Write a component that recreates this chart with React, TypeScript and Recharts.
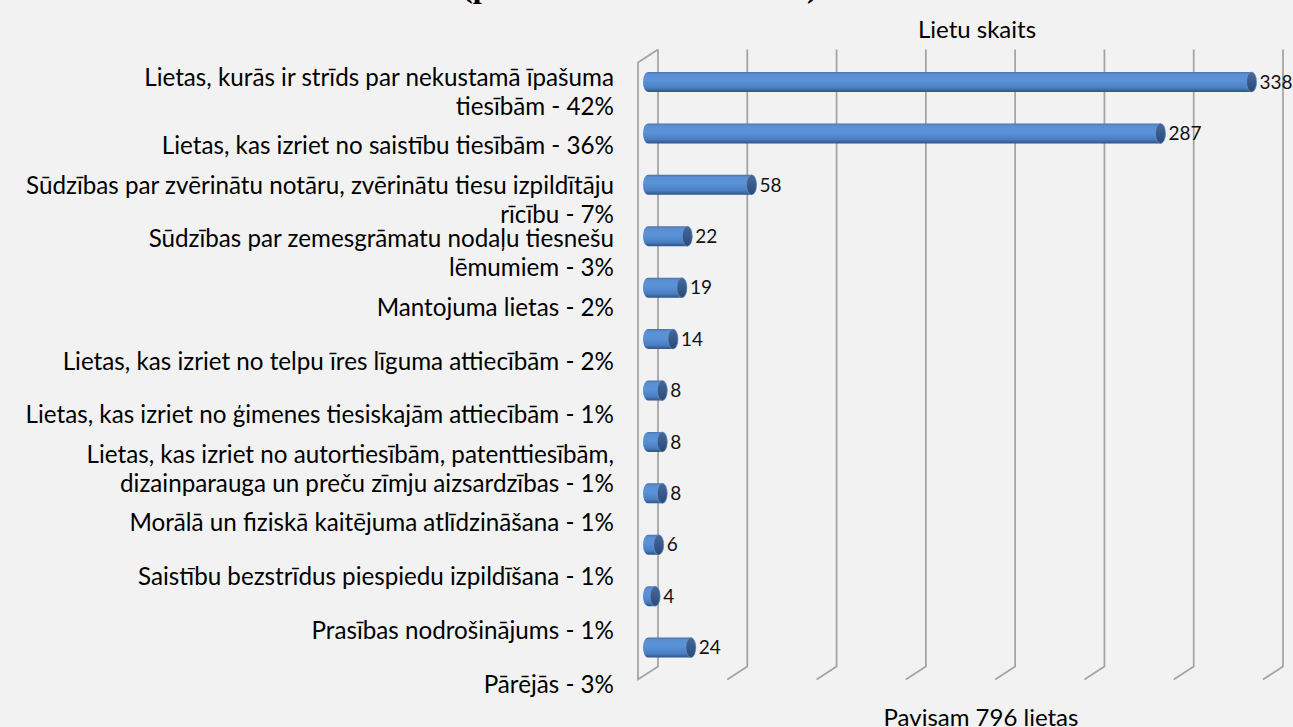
import { BarChart, Bar, XAxis, YAxis, CartesianGrid, LabelList } from 'recharts';

// category labels ("\n" marks where the reference wraps the line)
const CATEGORIES = [
  'Lietas, kurās ir strīds par nekustamā īpašuma\ntiesībām - 42%',
  'Lietas, kas izriet no saistību tiesībām - 36%',
  'Sūdzības par zvērinātu notāru, zvērinātu tiesu izpildītāju\nrīcību - 7%',
  'Sūdzības par zemesgrāmatu nodaļu tiesnešu\nlēmumiem - 3%',
  'Mantojuma lietas - 2%',
  'Lietas, kas izriet no telpu īres līguma attiecībām - 2%',
  'Lietas, kas izriet no ģimenes tiesiskajām attiecībām - 1%',
  'Lietas, kas izriet no autortiesībām, patenttiesībām,\ndizainparauga un preču zīmju aizsardzības - 1%',
  'Morālā un fiziskā kaitējuma atlīdzināšana - 1%',
  'Saistību bezstrīdus piespiedu izpildīšana - 1%',
  'Prasības nodrošinājums - 1%',
  'Pārējās - 3%',
];

const CASES = [338, 287, 58, 22, 19, 14, 8, 8, 8, 6, 4, 24];

const X_TICKS = [0, 50, 100, 150, 200, 250, 300, 350];

const TITLE = '(procentuāli un skaitliski)';
const AXIS_TITLE = 'Lietu skaits';
const FOOTER = 'Pavisam 796 lietas';

const data = CATEGORIES.map((name, i) => ({ name, value: CASES[i] }));

const FONT = 'Lato, "Open Sans", sans-serif';
const BAR_PAD_BOTTOM = 37;
const DX = 10;
const DY = 6.5;
const GRID = '#a3a3a3';
const LABEL_RIGHT = 614;

function CategoryTick({ y, payload }: any) {
  const lines = String(payload.value).split('\n');
  const gap = 29;
  return (
    <g>
      {lines.map((l, i) => (
        <text
          key={i}
          x={LABEL_RIGHT}
          y={y + (i - (lines.length - 1) / 2) * gap}
          textAnchor="end"
          dominantBaseline="central"
          fill="#000"
          fontSize={24.2}
          fontFamily={FONT}
        >
          {l}
        </text>
      ))}
    </g>
  );
}

// 3D-looking wall lines: back line, floor slant, plus front edge for the first one
function GridLine(props: any) {
  const { x1, y1, y2, index } = props;
  const top = y1;
  const bottom = y2 - BAR_PAD_BOTTOM;
  const bx = x1 + DX;
  const fx = x1 - DX;
  let d = `M${bx},${top - DY} L${bx},${bottom - DY} L${fx},${bottom + DY}`;
  if (index === 0) {
    d += ` L${fx},${top + DY} L${bx},${top - DY}`;
  }
  return <path key={`g-${index}`} d={d} fill="none" stroke={GRID} strokeWidth={1.75} />;
}

function Cylinder(props: any) {
  const { x, y, width, height } = props;
  if (width == null || height == null) return null;
  const rx = 5;
  const ry = height / 2;
  const x2 = x + width;
  return (
    <g>
      <path
        d={`M${x},${y} L${x2},${y} A${rx},${ry} 0 0 1 ${x2},${y + height} L${x},${y + height} A${rx},${ry} 0 0 1 ${x},${y} Z`}
        fill="url(#cylBody)"
      />
      <ellipse cx={x2} cy={y + ry} rx={rx} ry={ry} fill="url(#cylCap)" stroke="#6f98d0" strokeWidth={0.6} />
    </g>
  );
}

export default function App() {
  return (
    <div
      style={{
        position: 'fixed',
        top: 0,
        left: 0,
        width: 1293,
        height: 727,
        background: '#f2f2f2',
        overflow: 'hidden',
        fontFamily: FONT,
      }}
    >
      <BarChart
        width={1293}
        height={727}
        data={data}
        layout="vertical"
        margin={{ top: 56, right: 20, bottom: 17, left: 0 }}
      >
        <defs>
          <linearGradient id="cylBody" x1="0" y1="0" x2="0" y2="1">
            <stop offset="0%" stopColor="#4874b0" />
            <stop offset="12%" stopColor="#5b8fd2" />
            <stop offset="45%" stopColor="#5a92d8" />
            <stop offset="80%" stopColor="#4a7ec0" />
            <stop offset="100%" stopColor="#2f5389" />
          </linearGradient>
          <linearGradient id="cylCap" x1="0" y1="0" x2="0" y2="1">
            <stop offset="0%" stopColor="#46699c" />
            <stop offset="100%" stopColor="#2a4a78" />
          </linearGradient>
        </defs>
        <CartesianGrid horizontal={false} vertical={GridLine} verticalPoints={undefined} syncWithTicks />
        <XAxis
          type="number"
          domain={[0, 350]}
          ticks={X_TICKS}
          interval={0}
          height={0}
          tick={() => <g />}
          axisLine={false}
          tickLine={false}
        />
        <YAxis
          yAxisId="labels"
          type="category"
          dataKey="name"
          width={648}
          padding={{ top: 8, bottom: 0 }}
          axisLine={false}
          tickLine={false}
          interval={0}
          tick={CategoryTick}
        />
        <YAxis
          yAxisId="bars"
          type="category"
          dataKey="name"
          hide
          padding={{ top: 0, bottom: BAR_PAD_BOTTOM }}
        />
        <Bar yAxisId="bars" dataKey="value" barSize={20} shape={Cylinder} isAnimationActive={false}>
          <LabelList
            dataKey="value"
            position="right"
            offset={8}
            fill="#111"
            fontSize={19}
            fontFamily={FONT}
          />
        </Bar>
      </BarChart>
      <svg width={1293} height={727} style={{ position: 'absolute', top: 0, left: 0, pointerEvents: 'none' }}>
        <text x={462} y={-3} fontFamily='"Liberation Serif", "Times New Roman", serif' fontWeight="bold" fontSize={32.4} fill="#000">
          {TITLE}
        </text>
        <text x={977} y={38} textAnchor="middle" fontFamily={FONT} fontSize={24} fill="#000">
          {AXIS_TITLE}
        </text>
        <text x={981} y={726} textAnchor="middle" fontFamily={FONT} fontSize={24} fill="#000">
          {FOOTER}
        </text>
      </svg>
    </div>
  );
}
